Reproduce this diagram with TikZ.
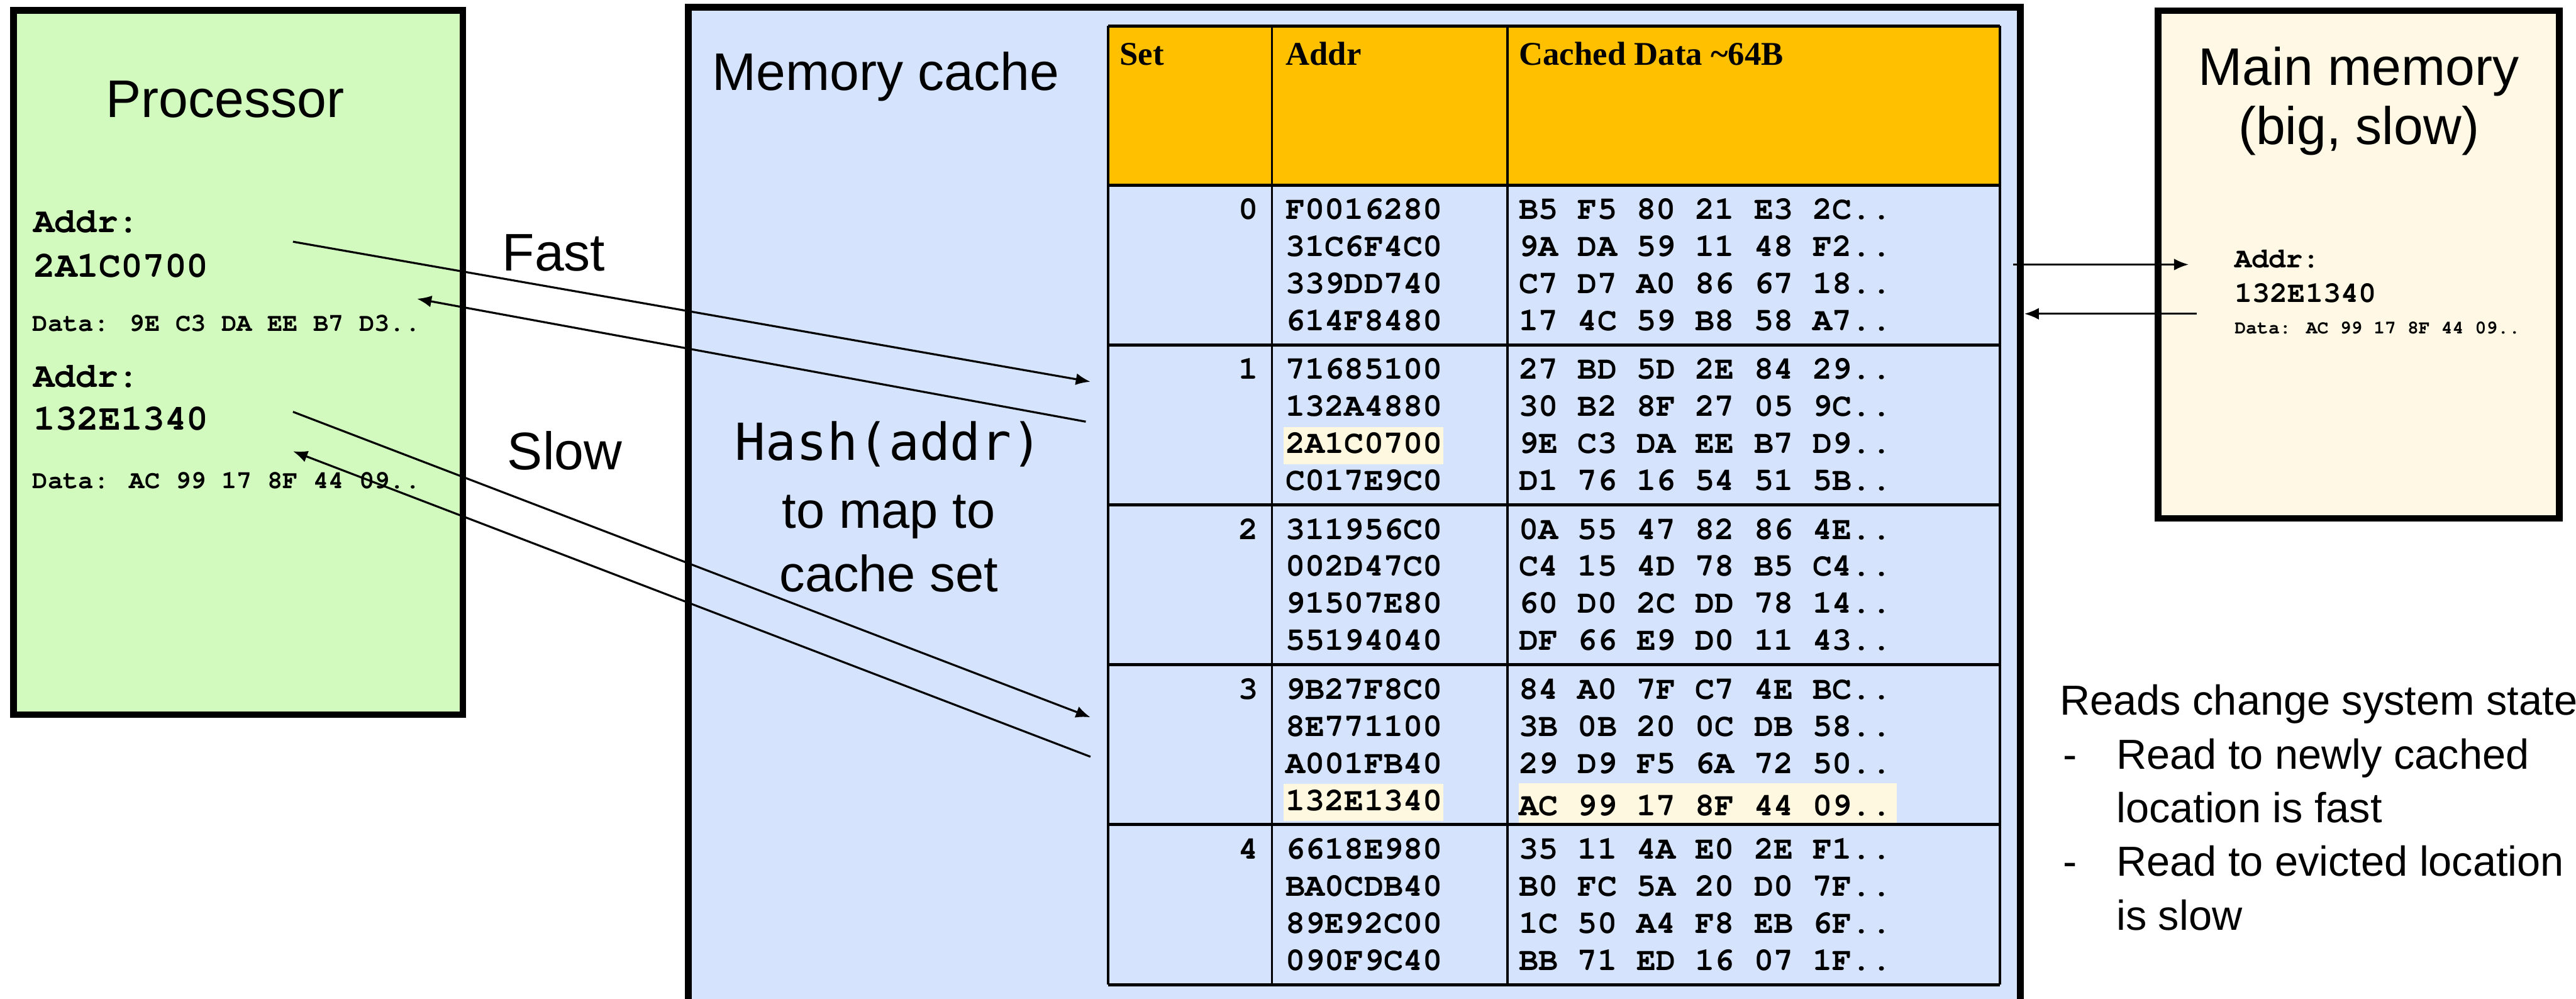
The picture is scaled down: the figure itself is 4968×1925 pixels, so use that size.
\documentclass[tikz,border=0pt]{standalone}
\usepackage{fontspec}
\setmainfont{Liberation Sans}
\newfontfamily\monofam{TeX Gyre Cursor}
\newfontfamily\seriffam{Liberation Serif}
\newfontfamily\hashfam{DejaVu Sans Mono}
\usetikzlibrary{arrows.meta}
\definecolor{procgreen}{RGB}{210,250,190}
\definecolor{cacheblue}{RGB}{213,227,252}
\definecolor{hdrorange}{RGB}{255,192,0}
\definecolor{memcream}{RGB}{254,248,228}
\definecolor{hilite}{RGB}{255,248,225}
\newcommand{\fsz}[1]{\fontsize{#1}{#1}\selectfont}
\begin{document}
\begin{tikzpicture}[x=0.01cm,y=-0.01cm,
  box/.style={draw=black, line width=3.7pt, inner sep=0pt},
  txt/.style={inner sep=0pt, anchor=base west},
  ctxt/.style={inner sep=0pt, anchor=base},
  title/.style={ctxt, font=\fsz{29pt}},
  arr/.style={-{Latex[length=8pt,width=6.5pt]}, line width=1.1pt},
  hline/.style={line width=1.7pt},
  vline/.style={line width=1.3pt},
  cell/.style={txt, font=\monofam\bfseries\fsz{17.9pt}},
  hdr/.style={txt, font=\seriffam\bfseries\fsz{18.2pt}},
  note/.style={txt, font=\fsz{23pt}}
]
\useasboundingbox (0,0) rectangle (4968,1925);

% ---------- boxes ----------
\node[box, fill=procgreen, minimum width=8.66cm, minimum height=13.57cm] (proc) at (459.5,699) {};
\node[box, fill=cacheblue, minimum width=25.68cm, minimum height=19.305cm] (cache) at (2612,979.75) {};
\node[box, fill=memcream, minimum width=7.74cm, minimum height=9.78cm] (mainmem) at (4549,510) {};

% ---------- processor ----------
\node[title] (proctitle) at (434,226) {Processor};
\node[txt, font=\monofam\bfseries\fsz{19.3pt}] (pa1) at (64,448) {Addr:};
\node[txt, font=\monofam\bfseries\fsz{20pt}] (pv1) at (64,534) {2A1C0700};
\node[txt, font=\monofam\bfseries\fsz{14pt}] (pd1) at (62,638) {Data: 9E C3 DA EE B7 D3..};
\node[txt, font=\monofam\bfseries\fsz{19.3pt}] (pa2) at (64,747) {Addr:};
\node[txt, font=\monofam\bfseries\fsz{20pt}] (pv2) at (64,829) {132E1340};
\node[txt, font=\monofam\bfseries\fsz{14pt}] (pd2) at (62,942) {Data: AC 99 17 8F 44 09..};

% ---------- labels between ----------
\node[txt, font=\fsz{29pt}] (fast) at (968,522) {Fast};
\node[txt, font=\fsz{29pt}] (slow) at (978,905) {Slow};

% ---------- memory cache ----------
\node[txt, font=\fsz{29pt}] (cachetitle) at (1373,174) {Memory cache};
\node[ctxt, font=\hashfam\fsz{28pt}] (hash) at (1714,887) {Hash(addr)};
\node[ctxt, font=\fsz{28pt}] (map1) at (1714,1018) {to map to};
\node[ctxt, font=\fsz{28pt}] (map2) at (1714,1141) {cache set};

% table background and highlights
\fill[hdrorange] (2137,50) rectangle (3857,357);
\fill[hilite] (2475,823) rectangle (2783,895);
\fill[hilite] (2475,1511) rectangle (2783,1583);
\fill[hilite] (2929,1510) rectangle (3658,1586);

% table grid
\foreach \r in {0,...,5}{
  \pgfmathsetmacro\yy{357+308.25*\r}
  \draw[hline] (2137,\yy) -- (3857,\yy);
}
\draw[hline] (2137,50) -- (3857,50);
\foreach \xx in {2137,2453,2907,3857}{
  \draw[vline] (\xx,50) -- (\xx,1898);
}

% header
\node[hdr] (hset) at (2159,125) {Set};
\node[hdr] (haddr) at (2479,125) {Addr};
\node[hdr] (hdata) at (2929,125) {Cached Data \textasciitilde64B};

% set numbers
\foreach \r in {0,...,4}{
  \pgfmathsetmacro\yy{357+308.25*\r+66}
  \node[cell, anchor=base east] (set\r) at (2427,\yy) {\r};
}

% cells
\foreach \r/\k/\ad/\dt in {
  0/0/F0016280/B5 F5 80 21 E3 2C..,
  0/1/31C6F4C0/9A DA 59 11 48 F2..,
  0/2/339DD740/C7 D7 A0 86 67 18..,
  0/3/614F8480/17 4C 59 B8 58 A7..,
  1/0/71685100/27 BD 5D 2E 84 29..,
  1/1/132A4880/30 B2 8F 27 05 9C..,
  1/2/2A1C0700/9E C3 DA EE B7 D9..,
  1/3/C017E9C0/D1 76 16 54 51 5B..,
  2/0/311956C0/0A 55 47 82 86 4E..,
  2/1/002D47C0/C4 15 4D 78 B5 C4..,
  2/2/91507E80/60 D0 2C DD 78 14..,
  2/3/55194040/DF 66 E9 D0 11 43..,
  3/0/9B27F8C0/84 A0 7F C7 4E BC..,
  3/1/8E771100/3B 0B 20 0C DB 58..,
  3/2/A001FB40/29 D9 F5 6A 72 50..,
  4/0/6618E980/35 11 4A E0 2E F1..,
  4/1/BA0CDB40/B0 FC 5A 20 D0 7F..,
  4/2/89E92C00/1C 50 A4 F8 EB 6F..,
  4/3/090F9C40/BB 71 ED 16 07 1F..}{
  \pgfmathsetmacro\yy{357+308.25*\r+66+71.5*\k}
  \node[cell] (a\r\k) at (2479,\yy) {\ad};
  \node[cell] (d\r\k) at (2929,\yy) {\dt};
}
\node[cell] (a33) at (2479,1563) {132E1340};
\node[cell] (d33) at (2929,1573) {AC 99 17 8F 44 09..};

% ---------- main memory ----------
\node[title] (memtitle1) at (4549,164) {Main memory};
\node[title] (memtitle2) at (4549,278) {(big, slow)};
\node[txt, font=\monofam\bfseries\fsz{15.6pt}] (ma) at (4309,516) {Addr:};
\node[txt, font=\monofam\bfseries\fsz{16.2pt}] (mv) at (4309,583) {132E1340};
\node[txt, font=\monofam\bfseries\fsz{10.3pt}] (md) at (4309,643) {Data: AC 99 17 8F 44 09..};

% ---------- notes ----------
\node[note] (n0) at (3972,1378) {Reads change system state};
\node[note] (n1d) at (3978,1483) {-};
\node[note] (n1) at (4081,1483) {Read to newly cached};
\node[note] (n1b) at (4081,1586) {location is fast};
\node[note] (n2d) at (3978,1689) {-};
\node[note] (n2) at (4081,1689) {Read to evicted location};
\node[note] (n2b) at (4081,1793) {is slow};

% ---------- connectors ----------
\coordinate (fastS) at (565,466);
\coordinate (fastE) at (2103,736);
\coordinate (fastR) at (2094,813);
\coordinate (fastRE) at (804,576);
\coordinate (slowS) at (565,794);
\coordinate (slowE) at (2103,1383);
\coordinate (slowR) at (2103,1459);
\coordinate (slowRE) at (565,870);
\coordinate (memS) at (3883,510);
\coordinate (memE) at (4221,510);
\coordinate (memR) at (4236,605);
\coordinate (memRE) at (3904,605);
\draw[arr] (fastS) -- (fastE);
\draw[arr] (fastR) -- (fastRE);
\draw[arr] (slowS) -- (slowE);
\draw[arr] (slowR) -- (slowRE);
\draw[arr] (memS) -- (memE);
\draw[arr] (memR) -- (memRE);
\end{tikzpicture}
\end{document}
